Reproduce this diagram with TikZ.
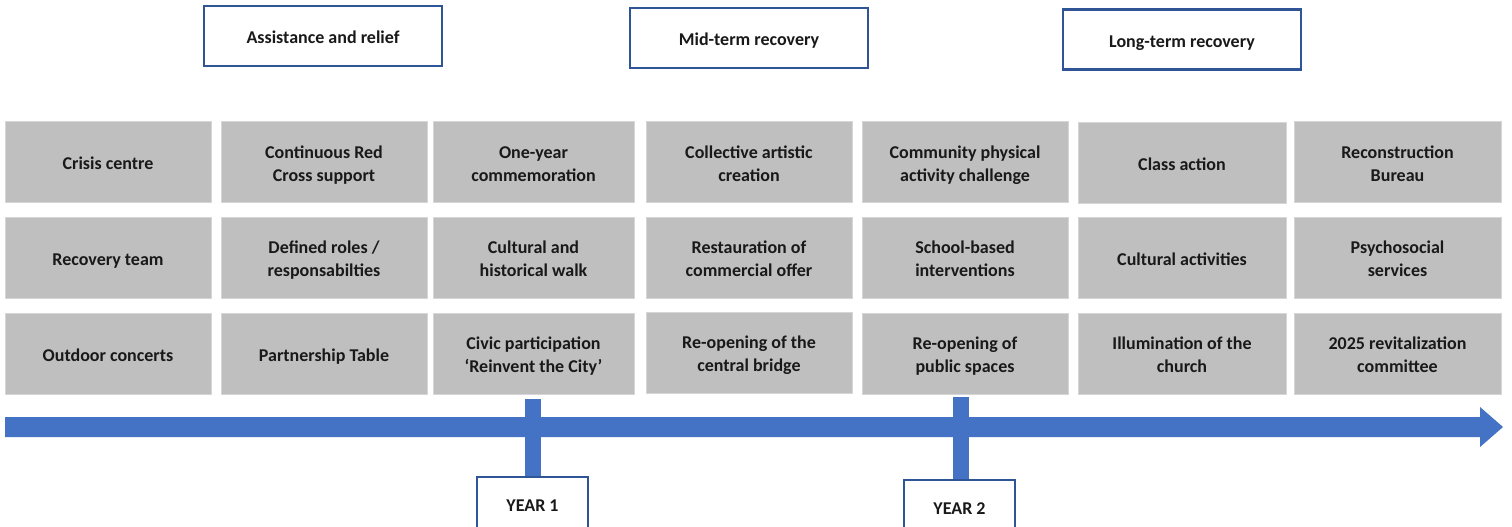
\documentclass[tikz,border=0pt]{standalone}
\usepackage{fontspec}
\setmainfont{Carlito}
\definecolor{cellgray}{HTML}{BFBFBF}
\definecolor{celledge}{HTML}{D6D6D6}
\definecolor{phaseblue}{HTML}{2F5597}
\definecolor{lineblue}{HTML}{4472C4}
% centred lines of a box label, set a little below the middle of the box
\newcommand{\boxtext}[1]{\raisebox{-3pt}[\height][\depth]{\begin{tabular}{@{}c@{}}#1\end{tabular}}}
\tikzset{
  every node/.style={font=\fontsize{18}{23}\selectfont\bfseries, text=black!90, inner sep=0pt},
  cell/.style={fill=cellgray, draw=celledge, line width=1pt, minimum height=81pt},
  phase/.style={fill=white, draw=phaseblue, line width=2.8pt, minimum width=238pt, minimum height=60pt},
  yearbox/.style={fill=white, draw=phaseblue, line width=2.8pt, minimum width=111pt, minimum height=54pt},
  yeartick/.style={draw=lineblue, line width=16pt},
}
\begin{document}
\begin{tikzpicture}[x=1pt,y=-1pt]
\clip (0,0) rectangle (1512,527);
\fill[white] (0,0) rectangle (1512,527);

% phase headers
\node[phase] (p1) at (323,36) {\boxtext{Assistance and relief}};
\node[phase] (p2) at (749,38) {\boxtext{Mid-term recovery}};
\node[phase] (p3) at (1182,39.5) {\boxtext{Long-term recovery}};

% column 1
\node[cell, minimum width=206pt] (a1) at (108,162) {\boxtext{Crisis centre}};
\node[cell, minimum width=206pt] (a2) at (108,257.5) {\boxtext{Recovery team}};
\node[cell, minimum width=206pt] (a3) at (108,353.5) {\boxtext{Outdoor concerts}};
% column 2
\node[cell, minimum width=206pt] (b1) at (324,162) {\boxtext{Continuous Red\\Cross support}};
\node[cell, minimum width=206pt] (b2) at (324,257.5) {\boxtext{Defined roles /\\responsabilties}};
\node[cell, minimum width=206pt] (b3) at (324,353.5) {\boxtext{Partnership Table}};
% column 3
\node[cell, minimum width=201pt] (c1) at (533.5,162) {\boxtext{One-year\\commemoration}};
\node[cell, minimum width=201pt] (c2) at (533.5,257.5) {\boxtext{Cultural and\\historical walk}};
\node[cell, minimum width=201pt] (c3) at (533.5,353.5) {\boxtext{Civic participation\\‘Reinvent the City’}};
% column 4
\node[cell, minimum width=206pt] (d1) at (749,162) {\boxtext{Collective artistic\\creation}};
\node[cell, minimum width=206pt] (d2) at (749,257.5) {\boxtext{Restauration of\\commercial offer}};
\node[cell, minimum width=206pt] (d3) at (749,352.5) {\boxtext{Re-opening of the\\central bridge}};
% column 5
\node[cell, minimum width=206pt] (e1) at (965,162) {\boxtext{Community physical\\activity challenge}};
\node[cell, minimum width=206pt] (e2) at (965,257.5) {\boxtext{School-based\\interventions}};
\node[cell, minimum width=206pt] (e3) at (965,353.5) {\boxtext{Re-opening of\\public spaces}};
% column 6
\node[cell, minimum width=208pt] (f1) at (1182,163) {\boxtext{Class action}};
\node[cell, minimum width=208pt] (f2) at (1182,258) {\boxtext{Cultural activities}};
\node[cell, minimum width=208pt] (f3) at (1182,353.5) {\boxtext{Illumination of the\\church}};
% column 7
\node[cell, minimum width=207pt] (g1) at (1397.5,162) {\boxtext{Reconstruction\\Bureau}};
\node[cell, minimum width=207pt] (g2) at (1397.5,257.5) {\boxtext{Psychosocial\\services}};
\node[cell, minimum width=207pt] (g3) at (1397.5,353.5) {\boxtext{2025 revitalization\\committee}};

% timeline arrow
\fill[lineblue] (5,417) -- (1480,417) -- (1480,407) -- (1503,427) -- (1480,447) -- (1480,437) -- (5,437) -- cycle;

% year markers: ticks first, boxes on top
\coordinate (t1) at (533,399);
\coordinate (t2) at (961,397);
\coordinate (t1e) at (533,478);
\coordinate (t2e) at (961,481);
\draw[yeartick] (t1) -- (t1e);
\draw[yeartick] (t2) -- (t2e);
\node[yearbox] (y1) at (532.5,504) {\boxtext{YEAR 1}};
\node[yearbox] (y2) at (959.5,507) {\boxtext{YEAR 2}};
\end{tikzpicture}
\end{document}
